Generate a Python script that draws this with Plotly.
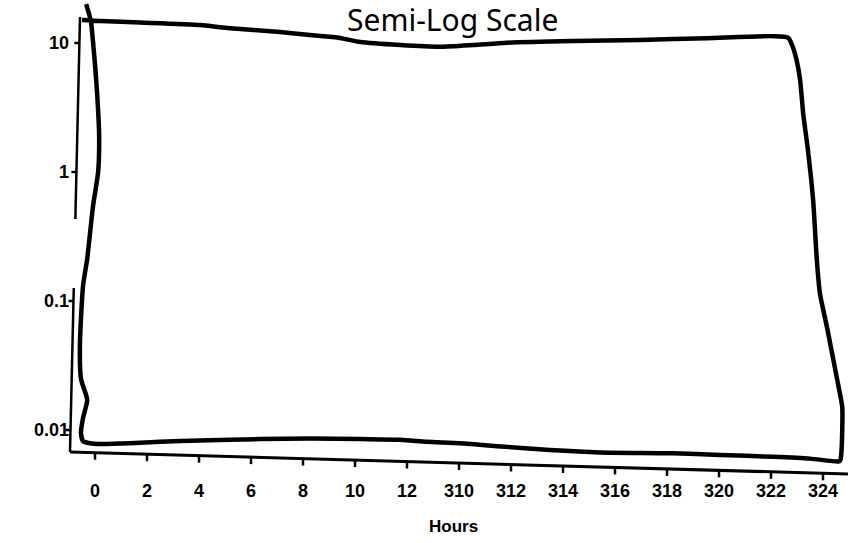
import math
import plotly.graph_objects as go

# ---- data ----
hour_labels = ["0", "2", "4", "6", "8", "10", "12",
               "310", "312", "314", "316", "318", "320", "322", "324"]
hour_positions = list(range(len(hour_labels)))   # equally spaced (broken) hour axis

y_tick_vals = [10, 1, 0.1, 0.01]
y_tick_text = ["10", "1", "0.1", "0.01"]

# hand-drawn closed envelope: x = position along the hour axis, y = value (log axis)
envelope_x = [
    -0.17, -0.08, -0.04, 0.04, 0.08, 0.06, -0.04, -0.15, -0.23, -0.29, -0.27, -0.15, -0.23, -0.27, -0.23,
    -0.10, 0.10, 0.67, 1.25, 2.02, 3.17, 4.13, 5.10, 5.87, 6.38, 7.02, 7.92, 8.75, 9.71, 11.12, 12.02,
    13.04, 13.75, 14.29, 14.33,
    14.35, 14.37, 14.37, 14.27, 14.08, 13.94, 13.88, 13.81, 13.71, 13.62, 13.56, 13.50, 13.42, 13.33,
    13.04, 11.77, 10.48, 9.19, 7.92, 7.27, 6.63, 5.87, 5.10, 4.71, 4.13, 3.56, 2.54, 2.02, 0.87, 0.10, -0.25,
]
envelope_y = [
    20.0, 14.8, 10.4, 4.10, 1.84, 1.00, 0.536, 0.212, 0.131, 0.0456, 0.0249, 0.0171, 0.0124, 0.0095, 0.0082,
    0.0079, 0.0078, 0.0079, 0.0081, 0.0083, 0.0085, 0.0086, 0.0085, 0.0084, 0.0081, 0.0079, 0.0074, 0.0070,
    0.0067, 0.0066, 0.0064, 0.0062, 0.0060, 0.0057, 0.0058,
    0.0064, 0.0100, 0.0151, 0.0249, 0.0617, 0.115, 0.212, 0.607, 1.48, 2.82, 5.17, 7.12, 9.31, 11.0,
    11.3, 10.9, 10.55, 10.36, 10.05, 9.65, 9.36, 9.65, 10.18, 10.94, 11.53, 12.17, 13.07, 13.79, 14.42, 14.81, 15.08,
]

# ---- page geometry ----
W, H = 852, 543
L, R, T, B = 72, 850, 0, 470          # plot area in pixels
X0_PX, X_STEP = 95, 52                # pixel of first hour tick and spacing
Y_DEC1_PX, DEC_PX = 43, 129           # pixel of y=10 and pixels per decade

x_range = [(L - X0_PX) / X_STEP, (R - X0_PX) / X_STEP]
y_range = [1 - (B - Y_DEC1_PX) / DEC_PX, 1 + (Y_DEC1_PX - T) / DEC_PX]


def px_x(i):
    return X0_PX + X_STEP * i


def px_y(v):
    return Y_DEC1_PX - DEC_PX * (math.log10(v) - 1)


def paper_x(px):
    return (px - L) / (R - L)


def paper_y(py):
    return (B - py) / (B - T)


# slightly skewed (scanned) axis lines
def xaxis_py(px):
    return 452 + (px - 70) * 22 / 778


def yaxis_px(py):
    return 80 - (py - 17) * 10 / 435


shapes = []
line_style = dict(color="black", width=3)
# x axis line
shapes.append(dict(type="line", xref="paper", yref="paper",
                   x0=paper_x(70), y0=paper_y(xaxis_py(70)),
                   x1=paper_x(848), y1=paper_y(xaxis_py(848)), line=line_style))
# x ticks
for i in hour_positions:
    px = px_x(i)
    py = xaxis_py(px)
    shapes.append(dict(type="line", xref="paper", yref="paper",
                       x0=paper_x(px), y0=paper_y(py), x1=paper_x(px), y1=paper_y(py + 7),
                       line=dict(color="black", width=2.5)))
# y axis (two segments, broken in the original)
for a, b in [(17, 219), (288, 452)]:
    shapes.append(dict(type="line", xref="paper", yref="paper",
                       x0=paper_x(yaxis_px(a)), y0=paper_y(a),
                       x1=paper_x(yaxis_px(b)), y1=paper_y(b),
                       line=dict(color="black", width=2.5)))
# y ticks
for v in y_tick_vals:
    py = px_y(v)
    px = yaxis_px(py)
    shapes.append(dict(type="line", xref="paper", yref="paper",
                       x0=paper_x(px), y0=paper_y(py), x1=paper_x(px - 5), y1=paper_y(py),
                       line=dict(color="black", width=2.5)))

fig = go.Figure()
fig.add_trace(go.Scatter(
    x=envelope_x, y=envelope_y, mode="lines",
    line=dict(color="black", width=4.5, shape="spline", smoothing=0.6),
    hoverinfo="skip", showlegend=False,
))

tick_font = dict(family="Liberation Sans, Arial, sans-serif", size=18, color="black", weight="bold")

fig.update_layout(
    width=W, height=H,
    margin=dict(l=L, r=W - R, t=T, b=H - B, pad=0),
    paper_bgcolor="white", plot_bgcolor="white",
    showlegend=False,
    shapes=shapes,
    xaxis=dict(
        range=x_range, tickmode="array", tickvals=hour_positions, ticktext=hour_labels,
        showgrid=False, zeroline=False, showline=False, ticks="",
        tickfont=tick_font, ticklabelstandoff=8,
    ),
    yaxis=dict(
        type="log", range=y_range, tickmode="array", tickvals=y_tick_vals, ticktext=y_tick_text,
        showgrid=False, zeroline=False, showline=False, ticks="",
        tickfont=tick_font, ticklabelstandoff=2,
    ),
    annotations=[
        dict(text="Semi-Log Scale", xref="paper", yref="paper",
             x=paper_x(452), y=paper_y(20), xanchor="center", yanchor="middle",
             showarrow=False, font=dict(family="Noto Sans", size=30, color="black")),
        dict(text="Hours", xref="paper", yref="paper",
             x=paper_x(453), y=paper_y(526), xanchor="center", yanchor="middle",
             showarrow=False, font=dict(family="Liberation Sans, Arial", size=17,
                                        color="black", weight="bold")),
    ],
)

fig.write_html(
    "out.html",
    config={"displayModeBar": False},
    post_script="document.body.style.margin='0';document.body.style.overflow='hidden';",
)
